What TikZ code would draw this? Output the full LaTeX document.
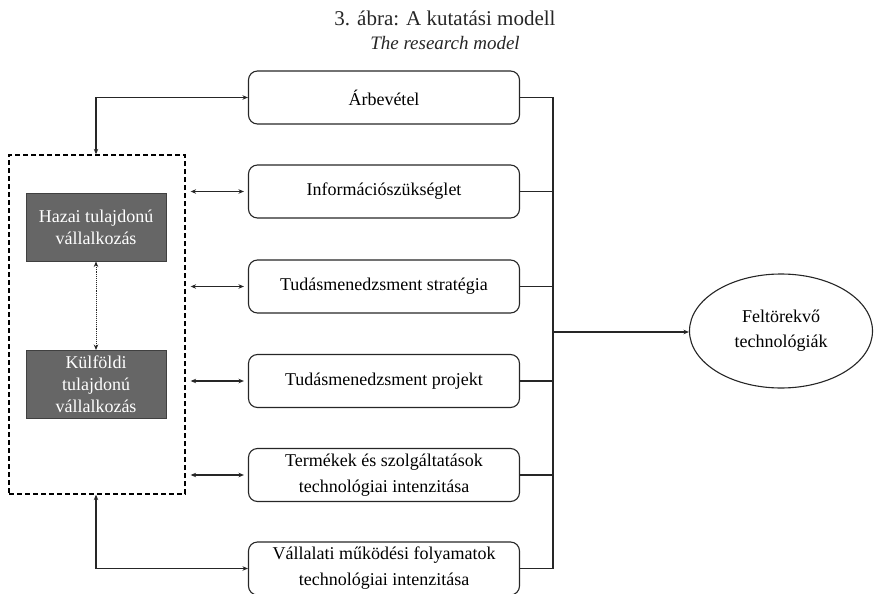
\documentclass[tikz,border=0pt]{standalone}
\usepackage{fontspec}
\setmainfont{Liberation Serif}
\usetikzlibrary{arrows.meta,shapes.geometric,calc}
\tikzset{
  rbox/.style={draw=black!85, line width=1.1pt, rounded corners=9pt, minimum width=271pt, minimum height=53pt, align=center, font=\fontsize{18}{26}\selectfont, inner sep=2pt},
  gbox/.style={draw=black!75, fill=black!60, line width=1pt, minimum width=140pt, minimum height=68pt, align=center, text=white, font=\fontsize{18}{22}\selectfont, inner sep=1pt},
  conn/.style={draw=black!85, line width=1.1pt},
  tip/.style={-{Stealth[length=5.5pt,width=4.5pt]}},
  dtip/.style={{Stealth[length=5.5pt,width=4.5pt]}-{Stealth[length=5.5pt,width=4.5pt]}}
}
\begin{document}
\begin{tikzpicture}[x=1pt,y=-1pt]
\useasboundingbox (0,0) rectangle (875,594);
% title
\node[text=black!85] (t1) at (445,18) {\fontsize{21}{24}\selectfont 3. ábra: A kutatási modell};
\node[text=black!85] (t2) at (445,43) {\fontsize{19}{22}\selectfont\itshape The research model};
% right boxes
\node[rbox] (b1) at (384,97.5) {Árbevétel};
\node[rbox] (b2) at (384,191.5) {Információszükséglet};
\node[rbox] (b3) at (384,286.5) {Tudásmenedzsment stratégia};
\node[rbox] (b4) at (384,381) {Tudásmenedzsment projekt};
\node[rbox] (b5) at (384,475) {Termékek és szolgáltatások\\technológiai intenzitása};
\node[rbox] (b6) at (384,568.5) {Vállalati működési folyamatok\\technológiai intenzitása};
% dashed group
\node[draw=black, dashed, line width=1.3pt, dash pattern=on 5pt off 3pt, minimum width=176pt, minimum height=339pt, inner sep=0pt] (grp) at (97,324.5) {};
\node[gbox] (g1) at (96,227) {Hazai tulajdonú\\vállalkozás};
\node[gbox] (g2) at (96,384.5) {Külföldi\\tulajdonú\\vállalkozás};
\draw[conn, line width=0.9pt, densely dotted, dtip] (g1.south) -- (g2.north);
% ellipse
\node[draw=black!85, line width=1.1pt, ellipse, minimum width=183pt, minimum height=114pt, align=center, font=\fontsize{18}{25}\selectfont, inner sep=0pt] (e) at (781,331) {Feltörekvő\\technológiák};
% junction
\coordinate (j1) at (553,97.5);
\coordinate (j6) at (553,568.5);
\coordinate (jm) at (553,332);
\draw[conn] (b1.east) -- (j1) -- (j6) -- (b6.east);
\draw[conn] (b2.east) -- (b2.east -| j1);
\draw[conn] (b3.east) -- (b3.east -| j1);
\draw[conn] (b4.east) -- (b4.east -| j1);
\draw[conn] (b5.east) -- (b5.east -| j1);
\draw[conn, tip] (jm) -- (e.west |- jm);
% left connectors
\draw[conn, dtip] (g1.center |- grp.north) |- (b1.west);
\draw[conn, dtip] (g2.center |- grp.south) |- (b6.west);
\draw[conn, dtip] ($(grp.east |- b2.west)+(5,0)$) -- ($(b2.west)+(-4,0)$);
\draw[conn, dtip] ($(grp.east |- b3.west)+(5,0)$) -- ($(b3.west)+(-4,0)$);
\draw[conn, dtip] ($(grp.east |- b4.west)+(5,0)$) -- ($(b4.west)+(-4,0)$);
\draw[conn, dtip] ($(grp.east |- b5.west)+(5,0)$) -- ($(b5.west)+(-4,0)$);
\end{tikzpicture}
\end{document}
